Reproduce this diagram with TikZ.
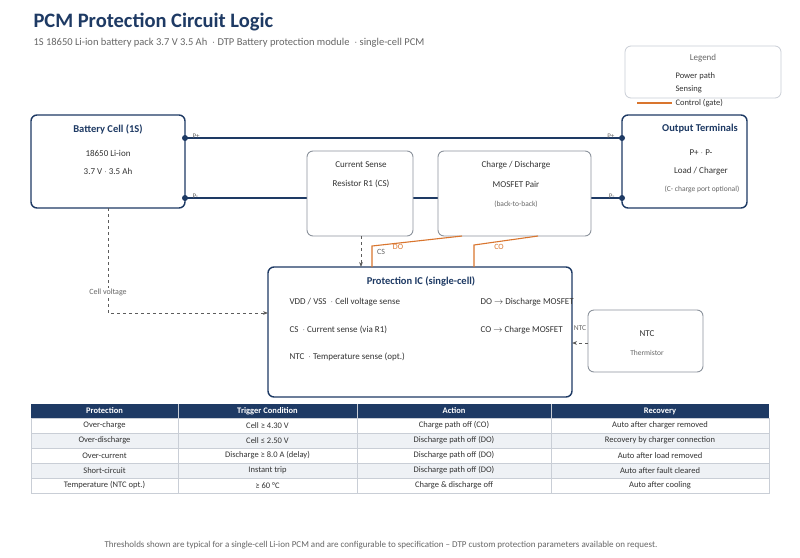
\documentclass[tikz,border=0pt]{standalone}
\usepackage{fontspec}
\setmainfont{Carlito}
\usetikzlibrary{arrows.meta}
\definecolor{navy}{HTML}{1E3A64}
\definecolor{gbox}{HTML}{8C939C}
\definecolor{txt}{HTML}{333333}
\definecolor{sub}{HTML}{666666}
\definecolor{org}{HTML}{D9752E}
\definecolor{rowg}{HTML}{EEF1F5}
\definecolor{grid}{HTML}{C9CED6}
\begin{document}
\begin{tikzpicture}[x=1pt,y=-1pt,
  mainbox/.style={draw=navy,line width=1.4pt,rounded corners=6pt,fill=white},
  subbox/.style={draw=gbox,line width=0.9pt,rounded corners=6pt,fill=white},
  btitle/.style={font=\bfseries\fontsize{10.5}{12}\selectfont,text=navy},
  btxt/.style={font=\fontsize{9}{11}\selectfont,text=txt},
  small/.style={font=\fontsize{7.5}{9}\selectfont,text=sub},
  power/.style={draw=navy,line width=2pt},
  sense/.style={draw=txt!80,dashed,line width=0.9pt,-{Stealth[length=5pt]}},
  ctrl/.style={draw=org,line width=1.1pt},
  dot/.style={circle,fill=navy,inner sep=0pt,minimum size=6pt},
  th/.style={font=\bfseries\fontsize{8.5}{10}\selectfont,text=white},
  td/.style={font=\fontsize{8.5}{10}\selectfont,text=txt}]
\useasboundingbox (0,0) rectangle (800,557);
\fill[white] (0,0) rectangle (800,557);
\node[anchor=west,font=\bfseries\fontsize{20.5}{24}\selectfont,text=navy] (title) at (30,22) {PCM Protection Circuit Logic};
\node[anchor=west,font=\fontsize{10.5}{12}\selectfont,text=sub] (subt) at (30,43) {1S 18650 Li-ion battery pack 3.7 V 3.5 Ah \ $\cdot$\ DTP Battery protection module \ $\cdot$\ single-cell PCM};
% legend
\draw[draw=grid,rounded corners=6pt,line width=0.8pt] (625,46) rectangle (781,98);
\node[btxt,text=sub] (lg) at (703,58) {Legend};
\node[anchor=west,font=\fontsize{8.5}{10}\selectfont,text=txt] (l1) at (672,76) {Power path};
\node[anchor=west,font=\fontsize{8.5}{10}\selectfont,text=txt] (l2) at (672,89) {Sensing};
\node[anchor=west,font=\fontsize{8.5}{10}\selectfont,text=txt] (l3) at (672,103) {Control (gate)};
\coordinate (lc) at (637,103);
\draw[ctrl] (lc) -- (l3.west);
% power lines
\coordinate (bp) at (185,138); \coordinate (op) at (622,138);
\coordinate (bm) at (185,198); \coordinate (om) at (622,198);
\draw[power] (bp) -- (op);
\draw[power] (bm) -- (om);
% boxes
\draw[mainbox] (31,115) rectangle (185,208);
\node[btitle] (bt) at (108,129) {Battery Cell (1S)};
\node[btxt] (b1) at (108,153) {18650 Li-ion};
\node[btxt] (b2) at (108,171) {3.7 V $\cdot$ 3.5 Ah};
\draw[mainbox] (622,115) rectangle (747,208);
\node[btitle] (ot) at (700,129) {Output Terminals};
\node[btxt] (o1) at (701,153) {P+ $\cdot$ P-};
\node[btxt] (o2) at (701,171) {Load / Charger};
\node[small] (o3) at (702,189) {(C- charge port optional)};
\draw[subbox] (307,151) rectangle (413,236);
\node[btxt] (c1) at (361,165) {Current Sense};
\node[btxt] (c2) at (361,184) {Resistor R1 (CS)};
\draw[subbox] (438,151) rectangle (591,236);
\node[btxt] (m1) at (516,165) {Charge / Discharge};
\node[btxt] (m2) at (516,184) {MOSFET Pair};
\node[small] (m3) at (516,204) {(back-to-back)};
\draw[mainbox] (268,267) rectangle (572,397);
\node[btitle] (it) at (421,281) {Protection IC (single-cell)};
\node[btxt,anchor=west] (i1) at (286,302) {VDD / VSS \ $\cdot$\ Cell voltage sense};
\node[btxt,anchor=west] (i2) at (286,330) {CS \ $\cdot$\ Current sense (via R1)};
\node[btxt,anchor=west] (i3) at (286,357) {NTC \ $\cdot$\ Temperature sense (opt.)};
\node[btxt,anchor=west] (i4) at (477,302) {DO $\rightarrow$ Discharge MOSFET};
\node[btxt,anchor=west] (i5) at (477,330) {CO $\rightarrow$ Charge MOSFET};
\draw[subbox] (588,310) rectangle (703,372);
\node[btxt] (n1) at (647,334) {NTC};
\node[small] (n2) at (647,353) {Thermistor};
% dots and labels
\foreach \c in {bp,bm,op,om} \node[dot] at (\c) {};
\node[font=\fontsize{7}{8}\selectfont,text=sub,anchor=west] (lp1) at (189,136) {P+};
\node[font=\fontsize{7}{8}\selectfont,text=sub,anchor=west] (lp2) at (189,196) {P-};
\node[font=\fontsize{7}{8}\selectfont,text=sub,anchor=east] (lp3) at (618,136) {P+};
\node[font=\fontsize{7}{8}\selectfont,text=sub,anchor=east] (lp4) at (618,196) {P-};
% sensing
\coordinate (bs) at (108,208); \coordinate (ics) at (268,313);
\draw[sense] (bs) |- (ics);
\node[font=\fontsize{8}{9}\selectfont,text=sub,fill=white,inner sep=1pt] (cv) at (108,292) {Cell voltage};
\coordinate (cs1) at (361,236); \coordinate (cs2) at (361,267);
\draw[sense] (cs1) -- (cs2);
\node[font=\fontsize{8}{9}\selectfont,text=sub] (csl) at (381,252) {CS};
\coordinate (ns) at (588,343); \coordinate (ni) at (572,343);
\draw[sense] (ns) -- (ni);
\node[font=\fontsize{7.5}{8}\selectfont,text=sub] (ntl) at (580,328) {NTC};
% control
\draw[ctrl] (372,267) -- (372,246) -- (462,236);
\draw[ctrl] (474,267) -- (474,245) -- (538,236);
\node[font=\fontsize{8}{9}\selectfont,text=org] (dol) at (398,247) {DO};
\node[font=\fontsize{8}{9}\selectfont,text=org] (col) at (499,247) {CO};
% table
\fill[navy] (31,404) rectangle (769,418);
\fill[rowg] (31,433) rectangle (769,448);
\fill[rowg] (31,463) rectangle (769,478);
\foreach \y in {433,448,463,478} \draw[grid,line width=0.6pt] (31,\y) -- (769,\y);
\draw[grid,line width=0.6pt] (31,418) rectangle (769,493);
\foreach \x in {178,357,551} \draw[grid,line width=0.6pt] (\x,404) -- (\x,493);
\node[th] at (104.5,411) {Protection};
\node[th] at (267.5,411) {Trigger Condition};
\node[th] at (454,411) {Action};
\node[th] at (660,411) {Recovery};
\foreach \r/\a/\b/\c/\d in {0/Over-charge/{Cell ≥ 4.30 V}/Charge path off (CO)/Auto after charger removed,
 1/Over-discharge/{Cell ≤ 2.50 V}/Discharge path off (DO)/Recovery by charger connection,
 2/Over-current/{Discharge ≥ 8.0 A (delay)}/Discharge path off (DO)/Auto after load removed,
 3/Short-circuit/Instant trip/Discharge path off (DO)/Auto after fault cleared,
 4/Temperature (NTC opt.)/{≥ 60 °C}/Charge \& discharge off/Auto after cooling}{
  \node[td] at (104.5,425.5+15*\r) {\a};
  \node[td] at (267.5,425.5+15*\r) {\b};
  \node[td] at (454,425.5+15*\r) {\c};
  \node[td] at (660,425.5+15*\r) {\d};
}
\node[font=\fontsize{9}{10}\selectfont,text=sub] (foot) at (381,545) {Thresholds shown are typical for a single-cell Li-ion PCM and are configurable to specification -- DTP custom protection parameters available on request.};
\end{tikzpicture}
\end{document}
